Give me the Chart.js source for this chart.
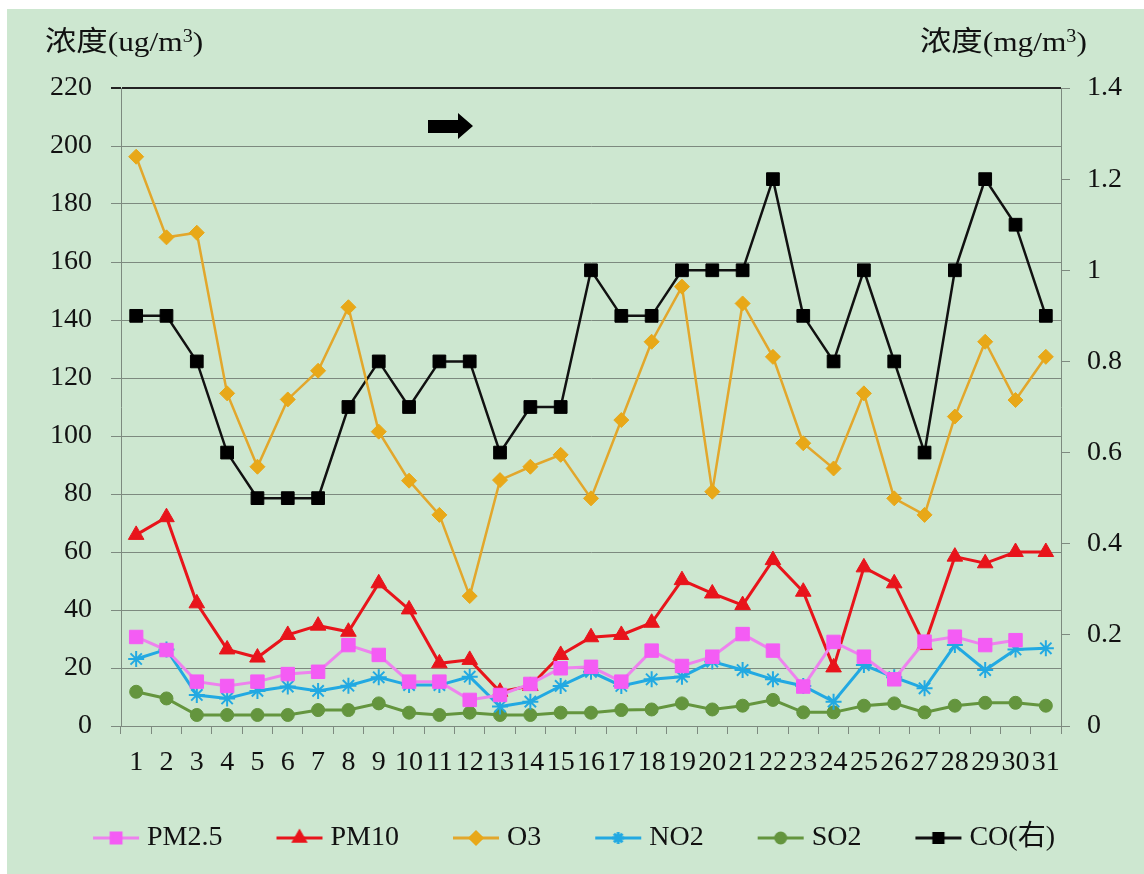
<!DOCTYPE html>
<html>
<head>
<meta charset="utf-8">
<script src="https://cdn.jsdelivr.net/npm/chart.js@4.4.1/dist/chart.umd.min.js"></script>
<style>
body { margin: 0; background: #fff; }
#wrap { position: relative; width: 1144px; height: 874px; }
#c { position: absolute; left: 0; top: 0; }
.ttl { position: absolute; top: 22px; font: 28px "Liberation Serif", "Noto Sans CJK SC"; color: #111;
  white-space: nowrap; transform: scaleX(1.12); transform-origin: left center; line-height: 40px; }
.ttl .s { font-size: 18px; position: relative; top: -9px; }
</style>
</head>
<body>
<div id="wrap">
  <canvas id="c" width="1144" height="874" style="width:1144px;height:874px"></canvas>
  <div class="ttl" style="left:45px">浓度(ug/m<span class="s">3</span>)</div>
  <div class="ttl" style="left:920px">浓度(mg/m<span class="s">3</span>)</div>
</div>
<script>
const days = ['1','2','3','4','5','6','7','8','9','10','11','12','13','14','15','16',
  '17','18','19','20','21','22','23','24','25','26','27','28','29','30','31'];

const pm25 = [30.7, 26.2, 15.3, 13.8, 15.3, 17.9, 18.7, 27.9, 24.5, 15.3, 15.3, 9, 10.7, 14.5, 19.9,
  20.4, 15.3, 26, 20.7, 23.9, 31.7, 26, 13.6, 29, 23.9, 16.1, 29.1, 30.8, 27.9, 29.6, null];
const pm10 = [65.9, 72, 42.3, 26.4, 23.6, 31.4, 34.6, 32.5, 49.2, 40.2, 21.6, 22.8, 11.8, 13.8, 24.5,
  30.6, 31.4, 35.6, 50.3, 45.7, 41.7, 57.2, 46.3, 20.2, 54.7, 49.2, 27.9, 58.4, 56.1, 60, 60];
const o3 = [196.3, 168.5, 170.1, 114.7, 89.4, 112.6, 122.5, 144.4, 101.5, 84.6, 72.8, 44.8, 84.8, 89.4, 93.5,
  78.5, 105.5, 132.5, 151.5, 80.8, 145.7, 127.3, 97.5, 88.8, 114.7, 78.5, 72.8, 106.7, 132.5, 112.4, 127.3];
const no2 = [23.1, 26.4, 10.7, 9.5, 12.1, 13.6, 12.1, 13.9, 16.8, 14.1, 14.1, 17, 6.7, 8.4, 13.8,
  18.7, 13.8, 16.1, 17, 22.2, 19.3, 16.1, 13.8, 8.4, 21, 16.8, 13, 27.9, 19.3, 26.4, 26.8];
const so2 = [11.8, 9.5, 3.8, 3.8, 3.8, 3.8, 5.5, 5.5, 7.8, 4.6, 3.8, 4.6, 3.8, 3.8, 4.6,
  4.6, 5.5, 5.7, 7.8, 5.7, 7, 9, 4.7, 4.7, 7, 7.8, 4.7, 7, 8, 8, 7];
const co = [0.9, 0.9, 0.8, 0.6, 0.5, 0.5, 0.5, 0.7, 0.8, 0.7, 0.8, 0.8, 0.6, 0.7, 0.7,
  1.0, 0.9, 0.9, 1.0, 1.0, 1.0, 1.2, 0.9, 0.8, 1.0, 0.8, 0.6, 1.0, 1.2, 1.1, 0.9];

const leftTicks = [0, 220, 20];
const rightTicks = [0, 1.4, 0.2];

const FONT = '"Liberation Serif", "Noto Sans CJK SC", serif';

// small line+marker pictures for the legend (line sits in the right part of the canvas)
function legendIcon(color, markColor, style, r, bw) {
  const cv = document.createElement('canvas');
  cv.width = 60; cv.height = 20;
  const g = cv.getContext('2d');
  g.strokeStyle = color; g.lineWidth = 3;
  g.beginPath(); g.moveTo(12, 10); g.lineTo(58, 10); g.stroke();
  g.fillStyle = markColor; g.strokeStyle = markColor;
  Chart.helpers.drawPoint(g, {pointStyle: style, radius: r, borderWidth: bw, rotation: 0}, 35, 10);
  return cv;
}

function series(label, data, color, markColor, style, r, width, axis) {
  return {
    label, data, yAxisID: axis || 'y',
    borderColor: color, backgroundColor: markColor, borderWidth: width,
    pointStyle: style, pointRadius: r, pointHoverRadius: r,
    pointBorderColor: markColor, pointBackgroundColor: markColor,
    pointBorderWidth: style === 'star' ? 2 : 1,
    tension: 0, spanGaps: false
  };
}

const datasets = [
  series('PM2.5', pm25, '#ee82ee', '#f45cf4', 'rect', 9.5, 3),
  series('PM10', pm10, '#e8141b', '#e8141b', 'triangle', 9, 3),
  series('O3', o3, '#e2a72c', '#e8a818', 'rectRot', 7.5, 2.5),
  series('NO2', no2, '#22a9e2', '#22a9e2', 'star', 8, 3),
  series('SO2', so2, '#64953e', '#64953e', 'circle', 6.5, 3),
  series('CO(右)', co, '#111111', '#000000', 'rect', 9, 2.5, 'y1')
];

const icons = [
  legendIcon('#ee82ee', '#f45cf4', 'rect', 7, 1),
  legendIcon('#e8141b', '#e8141b', 'triangle', 6.5, 1),
  legendIcon('#e2a72c', '#e8a818', 'rectRot', 6, 1),
  legendIcon('#22a9e2', '#22a9e2', 'star', 6, 1.5),
  legendIcon('#64953e', '#64953e', 'circle', 5, 1),
  legendIcon('#111111', '#000000', 'rect', 6.5, 1)
];

const bgPlugin = {
  id: 'bg',
  beforeDraw(chart) {
    const ctx = chart.ctx;
    ctx.save();
    ctx.fillStyle = '#cde7d0';
    ctx.fillRect(7, 9, chart.width - 7, chart.height - 9);
    ctx.restore();
  },
  afterDraw(chart) {
    // the black arrow near the top
    const ctx = chart.ctx;
    ctx.save();
    ctx.fillStyle = '#000';
    ctx.beginPath();
    ctx.moveTo(428, 120); ctx.lineTo(458, 120); ctx.lineTo(458, 113);
    ctx.lineTo(473, 126); ctx.lineTo(458, 139); ctx.lineTo(458, 133);
    ctx.lineTo(428, 133); ctx.closePath(); ctx.fill();
    ctx.restore();
  }
};

new Chart(document.getElementById('c'), {
  type: 'line',
  data: { labels: days, datasets },
  plugins: [bgPlugin],
  options: {
    responsive: false,
    animation: false,
    layout: { padding: { top: 88, bottom: 12, left: 0, right: 0 } },
    plugins: {
      tooltip: { enabled: false },
      legend: {
        position: 'bottom',
        labels: {
          usePointStyle: true,
          pointStyleWidth: 44,
          padding: 50,
          color: '#111',
          font: { family: FONT, size: 28 },
          generateLabels(chart) {
            const items = Chart.defaults.plugins.legend.labels.generateLabels(chart);
            items.forEach(it => { it.pointStyle = icons[it.datasetIndex]; });
            return items;
          }
        }
      }
    },
    scales: {
      x: {
        offset: true,
        afterFit(s) { s.height = 48; },
        grid: { offset: true, drawOnChartArea: false, color: '#7d8a7f', tickLength: 8 },
        border: { color: '#7d8a7f' },
        ticks: { autoSkip: false, maxRotation: 0, padding: 12, color: '#111', font: { family: FONT, size: 28 } }
      },
      y: {
        position: 'left',
        min: leftTicks[0], max: leftTicks[1],
        afterFit(s) { s.width = 121; },
        grid: {
          color: c => c.tick && c.tick.value === leftTicks[1] ? '#222' : '#7d8a7f',
          lineWidth: c => c.tick && c.tick.value === leftTicks[1] ? 2 : 1,
          tickLength: 10
        },
        border: { color: '#7d8a7f' },
        ticks: { stepSize: leftTicks[2], padding: 19, color: '#111', font: { family: FONT, size: 28 } }
      },
      y1: {
        position: 'right',
        min: rightTicks[0], max: rightTicks[1],
        afterFit(s) { s.width = 83; },
        grid: { drawOnChartArea: false, color: '#7d8a7f', tickLength: 9 },
        border: { color: '#7d8a7f' },
        ticks: {
          stepSize: rightTicks[2], padding: 17, color: '#111',
          font: { family: FONT, size: 28 },
          callback: v => String(+v.toFixed(1))
        }
      }
    }
  }
});
</script>
</body>
</html>
